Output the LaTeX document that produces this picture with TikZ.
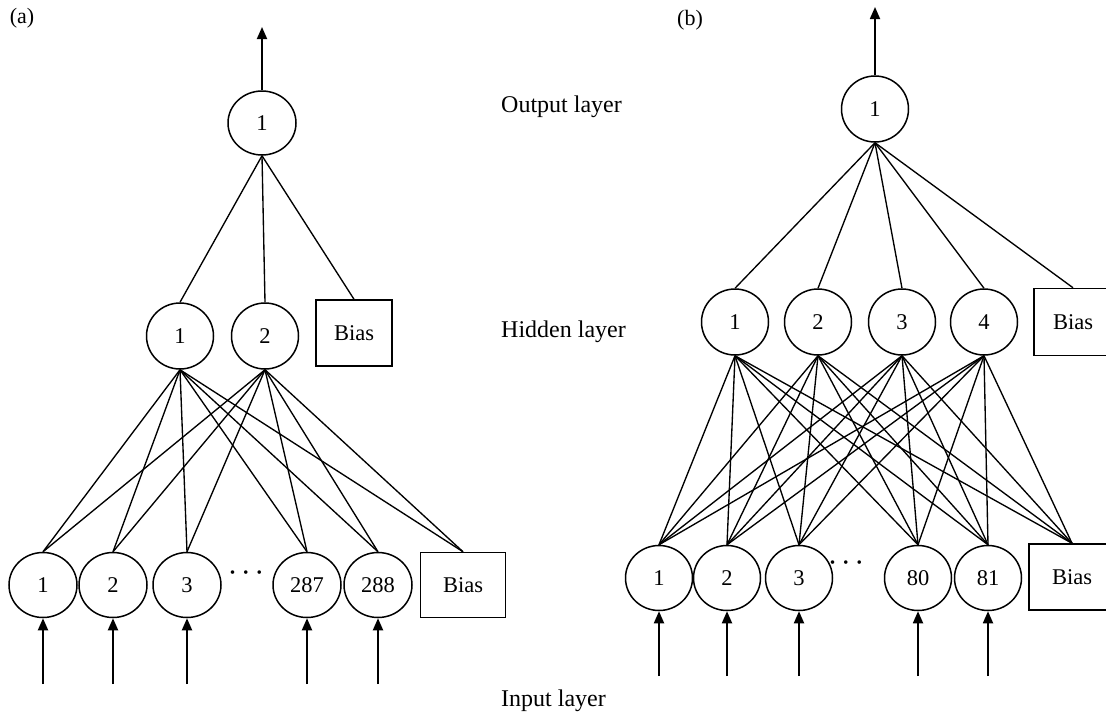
\documentclass[tikz,border=0pt]{standalone}
\usepackage{fontspec}
\setmainfont{Liberation Serif}
\usetikzlibrary{shapes.geometric,arrows.meta}
\begin{document}
\begin{tikzpicture}[x=1pt,y=-1pt,
  neuron/.style={draw,ellipse,line width=1.5pt,minimum width=67pt,minimum height=65pt,inner sep=0pt,font=\fontsize{22.5}{26}\selectfont},
  biasbox/.style={draw,rectangle,line width=1.5pt,inner sep=0pt,font=\fontsize{22.5}{26}\selectfont},
  link/.style={line width=1.35pt},
  inarrow/.style={line width=1.8pt,-{Triangle[width=10pt,length=12pt]}},
  layerlabel/.style={anchor=west,inner sep=0pt,font=\fontsize{24}{28}\selectfont},
  panellabel/.style={inner sep=0pt,font=\fontsize{22}{26}\selectfont},
  dotslabel/.style={inner sep=0pt,font=\fontsize{30}{34}\selectfont}]
\useasboundingbox (0,0) rectangle (1106,713);
\clip (0,0) rectangle (1106,713);

% ---------- labels ----------
\node[panellabel] (pa) at (22,18) {(a)};
\node[panellabel] (pb) at (690,20) {(b)};
\node[layerlabel] (lout) at (501,107) {Output layer};
\node[layerlabel] (lhid) at (501,332) {Hidden layer};
\node[layerlabel] (lin) at (501,701) {Input layer};

% ---------- panel (a) ----------
\node[neuron,minimum width=68pt,minimum height=64pt] (oa) at (262,123) {1};
\coordinate (outa) at (262,27);
\draw[inarrow] (oa.north) -- (outa);

\node[neuron,minimum height=66pt] (ha1) at (180,336) {1};
\node[neuron,minimum height=66pt] (ha2) at (265,336) {2};
\node[biasbox,minimum width=76pt,minimum height=66pt] (hab) at (354,333) {Bias};

\foreach \n/\x/\t in {1/43/1,2/113/2,3/187/3,4/307/287,5/378/288}{
  \node[neuron,minimum width=68pt] (ia\n) at (\x,585) {\t};
  \coordinate (ina\n) at (\x,684);
  \draw[inarrow] (ina\n) -- (ia\n.south);
}
\node[biasbox,minimum width=85pt,minimum height=65pt] (iab) at (463,585) {Bias};
\node[dotslabel] (dotsa) at (246,577) {·\kern3.5pt·\kern3.5pt·};

\foreach \h in {ha1,ha2,hab}
  \draw[link] (oa.south) -- (\h.north);
\foreach \h in {ha1,ha2}
  \foreach \i in {ia1,ia2,ia3,ia4,ia5,iab}
    \draw[link] (\h.south) -- (\i.north);

% ---------- panel (b) ----------
\node[neuron,minimum height=66pt] (ob) at (875,109) {1};
\coordinate (outb) at (875,7);
\draw[inarrow] (ob.north) -- (outb);

\foreach \n/\x in {1/735,2/818,3/902,4/984}{
  \node[neuron,minimum height=66pt] (hb\n) at (\x,322) {\n};
}
\node[biasbox,minimum width=78pt,minimum height=67pt] (hbb) at (1073,322) {Bias};

\foreach \n/\x/\t in {1/659/1,2/727/2,3/799/3,4/918/80,5/988/81}{
  \node[neuron] (ib\n) at (\x,578) {\t};
  \coordinate (inb\n) at (\x,676);
  \draw[inarrow] (inb\n) -- (ib\n.south);
}
\node[biasbox,minimum width=86pt,minimum height=66pt] (ibb) at (1072,577) {Bias};
\node[dotslabel] (dotsb) at (846,567) {·\kern3.5pt·\kern3.5pt·};

\foreach \h in {hb1,hb2,hb3,hb4,hbb}
  \draw[link] (ob.south) -- (\h.north);
\foreach \h in {hb1,hb2,hb3,hb4}
  \foreach \i in {ib1,ib2,ib3,ib4,ib5,ibb}
    \draw[link] (\h.south) -- (\i.north);
\end{tikzpicture}
\end{document}
